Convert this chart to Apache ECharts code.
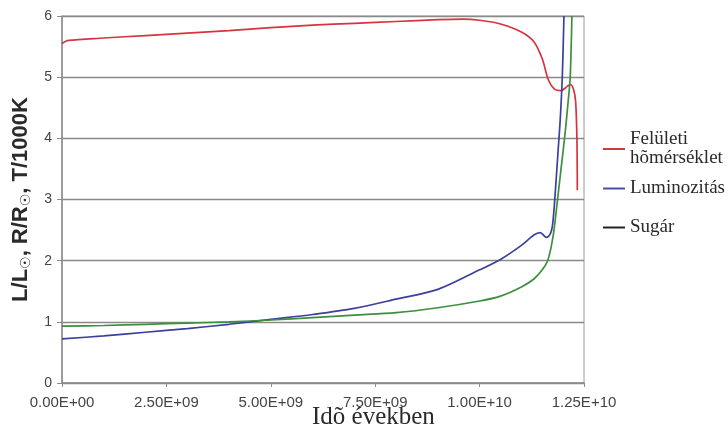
<!DOCTYPE html>
<html>
<head>
<meta charset="utf-8">
<script src="https://cdn.jsdelivr.net/npm/echarts@6/dist/echarts.min.js"></script>
<style>
  html, body { margin: 0; padding: 0; background: #ffffff; }
  #chart { width: 728px; height: 439px; }
</style>
</head>
<body>
<div id="chart"></div>
<script>
// Time in billions of years (axis labels show full years in E-notation)
const tempTime = [0, 0.15, 1, 2, 3, 4, 5, 6, 7, 8, 9, 9.6, 10, 10.5, 11, 11.3, 11.5, 11.65, 11.8, 11.95, 12.1, 12.17, 12.25, 12.3, 12.33, 12.34];
const tempValues = [5.55, 5.60, 5.64, 5.68, 5.72, 5.76, 5.81, 5.85, 5.88, 5.91, 5.94, 5.95, 5.93, 5.87, 5.74, 5.58, 5.30, 4.95, 4.80, 4.78, 4.85, 4.88, 4.80, 4.60, 4.00, 3.15];

const lumTime = [0, 1, 2, 3, 4, 5, 6, 7, 8, 9, 10, 10.5, 11, 11.3, 11.45, 11.6, 11.7, 11.75, 11.8, 11.88, 11.93, 11.98, 12.02];
const lumValues = [0.72, 0.77, 0.83, 0.89, 0.96, 1.04, 1.12, 1.22, 1.37, 1.53, 1.85, 2.02, 2.25, 2.42, 2.46, 2.38, 2.45, 2.60, 3.00, 3.80, 4.30, 5.00, 6.00];

const radTime = [0, 1, 2, 3, 4, 5, 6, 7, 8, 9, 10, 10.5, 11, 11.3, 11.5, 11.64, 11.76, 11.85, 11.95, 12.05, 12.12, 12.17, 12.21];
const radValues = [0.93, 0.94, 0.96, 0.98, 1.00, 1.03, 1.07, 1.11, 1.15, 1.23, 1.34, 1.42, 1.57, 1.70, 1.85, 2.02, 2.40, 2.90, 3.50, 4.10, 4.60, 5.00, 6.00];

const seriesNames = ['Felületi\nhõmérséklet', 'Luminozitás', 'Sugár'];
const seriesColors = ['#d8343e', '#3b3f9e', '#3d8f3d'];
const legendLineColors = ['#d8343e', '#4a4fae', '#222222'];
const legendTops = [125, 174, 213];

const xTitle = 'Idõ években';
const yTitle = 'L/L{s|☉}, R/R{s|☉}, T/1000K';

function pairs(xs, ys) {
  return xs.map((x, i) => [x, ys[i]]);
}

function sciLabel(v) {
  const years = v * 1e9;
  if (years === 0) return '0.00E+00';
  const exp = Math.floor(Math.log10(years) + 1e-9);
  const mant = years / Math.pow(10, exp);
  return mant.toFixed(2) + 'E+' + String(exp).padStart(2, '0');
}

const chart = echarts.init(document.getElementById('chart'), null, { renderer: 'canvas' });

const legends = seriesNames.map((n, i) => ({
  orient: 'vertical',
  left: 598, top: legendTops[i],
  itemWidth: 22, itemHeight: 2,
  icon: 'rect',
  selectedMode: false,
  textStyle: { fontFamily: 'Liberation Serif', fontSize: 19, color: '#2a2a2a', lineHeight: 19 },
  data: [{ name: n, itemStyle: { color: legendLineColors[i] } }]
}));

chart.setOption({
  animation: false,
  backgroundColor: '#ffffff',
  grid: {
    left: 62, right: 144, top: 16, bottom: 56,
    show: true, borderColor: '#9a9a9a', borderWidth: 1
  },
  legend: legends,
  graphic: [{
    type: 'text', left: 312, top: 405,
    style: { text: xTitle, fontFamily: 'Liberation Serif', fontSize: 25, fill: '#2a2a2a' }
  }],
  xAxis: {
    type: 'value', min: 0, max: 12.5, interval: 2.5,
    axisLine: { show: true, lineStyle: { color: '#8c8c8c', width: 1.5 } },
    axisTick: { show: true, length: 4, lineStyle: { color: '#8c8c8c' } },
    axisLabel: { formatter: sciLabel, fontFamily: 'Liberation Sans', fontSize: 15, color: '#444', margin: 12 },
    splitLine: { show: false }
  },
  yAxis: {
    type: 'value', min: 0, max: 6, interval: 1,
    name: yTitle, nameLocation: 'middle', nameGap: 29,
    nameTextStyle: {
      fontFamily: 'Liberation Sans', fontSize: 22, fontWeight: 'bold', color: '#2a2a2a',
      rich: { s: { fontFamily: 'DejaVu Sans', fontSize: 14, fontWeight: 'normal', color: '#2a2a2a', padding: [10, 0, 0, 0] } }
    },
    axisLine: { show: true, lineStyle: { color: '#8c8c8c', width: 1.5 } },
    axisTick: { show: true, length: 5, lineStyle: { color: '#8c8c8c' } },
    axisLabel: { fontFamily: 'Liberation Sans', fontSize: 14, color: '#444', margin: 10 },
    splitLine: { show: true, lineStyle: { color: '#8a8a8a', width: 1.3 } }
  },
  series: seriesNames.map((n, i) => ({
    name: n, type: 'line',
    data: [pairs(tempTime, tempValues), pairs(lumTime, lumValues), pairs(radTime, radValues)][i],
    smooth: 0.3, showSymbol: false,
    lineStyle: { color: seriesColors[i], width: 1.7 },
    itemStyle: { color: seriesColors[i] }
  }))
});
</script>
</body>
</html>
